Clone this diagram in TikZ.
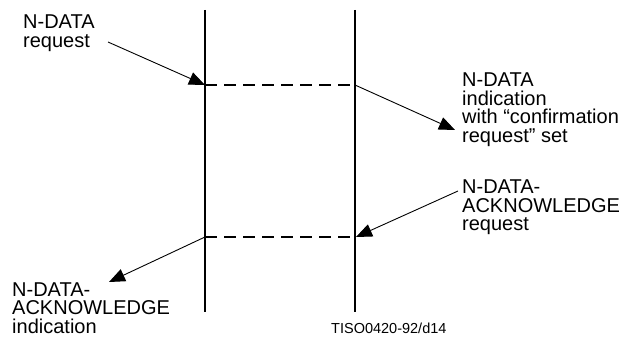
\documentclass[tikz,border=0pt]{standalone}
\usepackage{fontspec}
\setmainfont{Liberation Sans}
\usetikzlibrary{arrows.meta}
\begin{document}
\begin{tikzpicture}[x=1pt,y=-1pt,
  lifeline/.style={line width=1.8pt},
  msg/.style={line width=1.6pt,dash pattern=on 12pt off 7pt},
  prim/.style={line width=0.9pt,-{Triangle[length=16pt,width=13pt]}},
  lbl/.style={anchor=base west,inner sep=0pt,align=left,font=\fontsize{20}{18.5}\selectfont},
  tag/.style={anchor=base west,inner sep=0pt,font=\fontsize{14.5}{16}\selectfont}]
\useasboundingbox (0,0) rectangle (630,342);
\coordinate (lt) at (205,10);
\coordinate (lb) at (205,312);
\coordinate (rt) at (355,10);
\coordinate (rb) at (355,312);
\coordinate (l1) at (205,85);
\coordinate (r1) at (355,85);
\coordinate (l2) at (205,237);
\coordinate (r2) at (356,237);
\coordinate (a1) at (108,42);
\coordinate (a2) at (455,130);
\coordinate (a3) at (458,191);
\coordinate (a4) at (109,282);
\draw[lifeline] (lt) -- (lb);
\draw[lifeline] (rt) -- (rb);
\draw[msg] (l1) -- (r1);
\draw[msg] (l2) -- (r2);
\draw[prim] (a1) -- (l1);
\draw[prim] (r1) -- (a2);
\draw[prim] (a3) -- (r2);
\draw[prim] (l2) -- (a4);
\node[lbl] (t1) at (23,47.5) {N-DATA\\request};
\node[lbl] (t2) at (462,142.5) {N-DATA\\indication\\with “confirmation\\request” set};
\node[lbl] (t3) at (462,231) {N-DATA-\\ACKNOWLEDGE\\request};
\node[lbl] (t4) at (12,333) {N-DATA-\\ACKNOWLEDGE\\indication};
\node[tag] (t5) at (331,333) {TISO0420-92/d14};
\end{tikzpicture}
\end{document}
